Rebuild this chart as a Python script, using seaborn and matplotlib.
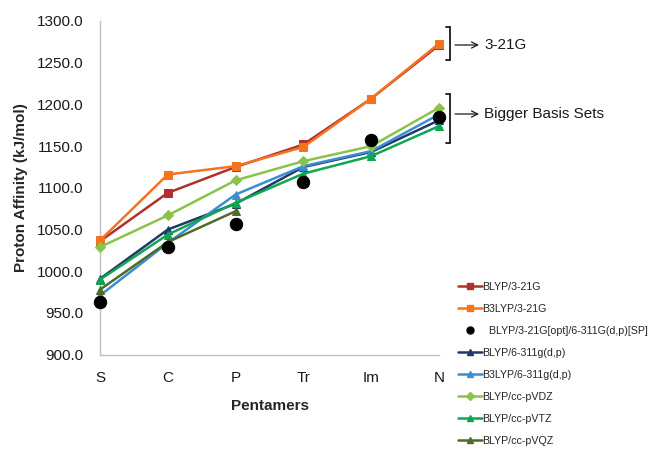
import numpy as np
import pandas as pd
import matplotlib
matplotlib.use("Agg")
import matplotlib.pyplot as plt
import seaborn as sns
from matplotlib.lines import Line2D
from matplotlib.patches import FancyArrowPatch

categories = ["S", "C", "P", "Tr", "Im", "N"]

blyp_321g = [1036, 1094, 1125, 1152, 1207, 1271]
b3lyp_321g = [1037, 1116, 1126, 1149, 1207, 1273]
blyp_sp = [963, 1029, 1057, 1107, 1157, 1185]
blyp_6311 = [991, 1050, 1081, 1125, 1143, 1181]
b3lyp_6311 = [971, 1034, 1092, 1126, 1144, 1188]
blyp_vdz = [1029, 1067, 1109, 1132, 1150, 1196]
blyp_vtz = [990, 1044, 1082, 1117, 1138, 1174]
blyp_vqz = [978, 1035, 1072]

series = [
    ("BLYP/3-21G", blyp_321g, "#B0302C", "s", 6),
    ("B3LYP/3-21G", b3lyp_321g, "#F47321", "s", 6),
    ("BLYP/6-311g(d,p)", blyp_6311, "#1F3A66", "^", 6),
    ("B3LYP/6-311g(d,p)", b3lyp_6311, "#3B8ED4", "^", 6),
    ("BLYP/cc-pVDZ", blyp_vdz, "#8BC34A", "D", 5),
    ("BLYP/cc-pVTZ", blyp_vtz, "#0FA651", "^", 6),
    ("BLYP/cc-pVQZ", blyp_vqz, "#4E6B2A", "^", 6),
]

sns.set_style("white")
plt.rcParams["font.family"] = ["Liberation Sans", "DejaVu Sans"]

fig = plt.figure(figsize=(6.54, 4.5), dpi=100)
W, H = 654, 450
ax = fig.add_axes([100 / W, 1 - 354.7 / H, 339 / W, 333.7 / H])

handles = {}
for name, vals, color, marker, ms in series:
    df = pd.DataFrame({"x": np.arange(len(vals)), "y": vals})
    sns.lineplot(data=df, x="x", y="y", ax=ax, color=color, marker=marker,
                 markersize=ms, markeredgecolor=color, linewidth=1.8,
                 clip_on=False, zorder=3)
    handles[name] = Line2D([], [], color=color, marker=marker, markersize=ms - 1,
                           markeredgecolor=color, linewidth=1.8)

df_sp = pd.DataFrame({"x": np.arange(len(blyp_sp)), "y": blyp_sp})
sns.scatterplot(data=df_sp, x="x", y="y", ax=ax, color="black", s=80,
                edgecolor="black", clip_on=False, zorder=5)
sp_label = "BLYP/3-21G[opt]/6-311G(d,p)[SP]"
handles[sp_label] = Line2D([], [], color="black", marker="o",
                           linestyle="none", markersize=5)

ax.set_xlim(0, 5)
ax.set_ylim(900, 1300)
ax.set_xticks(range(len(categories)))
ax.set_xticklabels(categories, fontsize=11)
yt = np.arange(900, 1301, 50)
ax.set_yticks(yt)
ax.set_yticklabels([f"{v:.1f}" for v in yt], fontsize=11)
ax.set_xlabel("Pentamers", fontsize=11, fontweight="bold", labelpad=10)
ax.set_ylabel("Proton Affinity (kJ/mol)", fontsize=11, fontweight="bold", labelpad=6)

for side in ["top", "right"]:
    ax.spines[side].set_visible(False)
for side in ["left", "bottom"]:
    ax.spines[side].set_color("#BFBFBF")
    ax.spines[side].set_linewidth(1.0)
ax.tick_params(axis="both", direction="out", length=4, width=1, color="#BFBFBF",
               labelcolor="#1a1a1a")
ax.tick_params(axis="x", pad=8)
ax.tick_params(axis="y", pad=8)

order = ["BLYP/3-21G", "B3LYP/3-21G", sp_label,
         "BLYP/6-311g(d,p)", "B3LYP/6-311g(d,p)", "BLYP/cc-pVDZ",
         "BLYP/cc-pVTZ", "BLYP/cc-pVQZ"]
labels = ["  " + k if k == sp_label else k for k in order]
fig.legend([handles[k] for k in order], labels, loc="upper left",
           bbox_to_anchor=(458 / W, 1 - 282 / H), frameon=False, fontsize=7.7,
           handlelength=2.2, handletextpad=0.1, labelspacing=1.12,
           borderaxespad=0, borderpad=0)

# brackets with arrows grouping the basis sets
def bracket(y0, y1, ya, text):
    fx = lambda px: px / W
    fy = lambda py: 1 - py / H
    for seg in [((446, 450), (y0, y0)), ((450, 450), (y0, y1)), ((446, 450), (y1, y1))]:
        fig.add_artist(Line2D([fx(seg[0][0]), fx(seg[0][1])],
                              [fy(seg[1][0]), fy(seg[1][1])],
                              color="#1a1a1a", linewidth=1.3))
    fig.add_artist(FancyArrowPatch(
        (fx(455), fy(ya)), (fx(479), fy(ya)), transform=fig.transFigure,
        arrowstyle="->", mutation_scale=11, color="#1a1a1a", linewidth=0.9,
        shrinkA=0, shrinkB=0))
    fig.text(fx(484), fy(ya), text, fontsize=11, va="center", ha="left",
             color="#1a1a1a")

bracket(27, 60, 45, "3-21G")
bracket(94, 143, 114, "Bigger Basis Sets")

fig.savefig("out.png", dpi=100)
